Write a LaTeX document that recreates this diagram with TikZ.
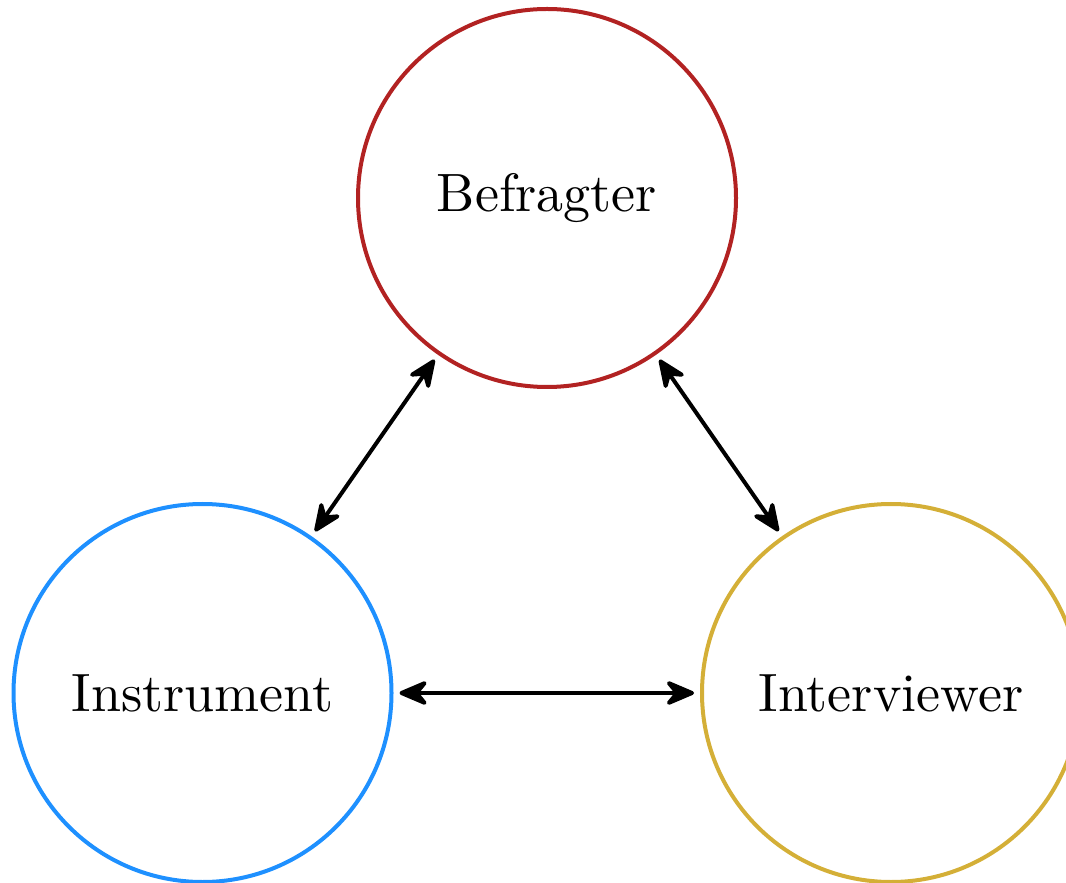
\documentclass[tikz,border=0pt]{standalone}
\usepackage{fontspec}
\usetikzlibrary{arrows.meta}
\newfontfamily\labelfont{lmroman10-regular.otf}
\definecolor{befred}{RGB}{178,34,34}
\definecolor{insblue}{RGB}{30,144,255}
\definecolor{intgold}{RGB}{212,175,55}
\begin{document}
\begin{tikzpicture}[x=0.75pt,y=0.75pt,
  party/.style={circle, draw, line width=3pt, minimum size=283.5pt, inner sep=0pt,
    font=\labelfont\fontsize{40.5}{48}\selectfont},
  link/.style={{Stealth[length=26pt,width=22pt,inset=9pt,round]}-{Stealth[length=26pt,width=22pt,inset=9pt,round]},
    line width=3pt, shorten <=4.5pt, shorten >=4.5pt}]
  \useasboundingbox (0,0) rectangle (1066,882);
  \node[party, befred]  (bef) at (547,684) {\textcolor{black}{Befragter}};
  \node[party, insblue] (ins) at (202.5,189) {\textcolor{black}{Instrument}};
  \node[party, intgold] (int) at (891,189) {\textcolor{black}{Interviewer}};
  \draw[link] (bef) -- (ins);
  \draw[link] (bef) -- (int);
  \draw[link] (ins) -- (int);
\end{tikzpicture}
\end{document}
